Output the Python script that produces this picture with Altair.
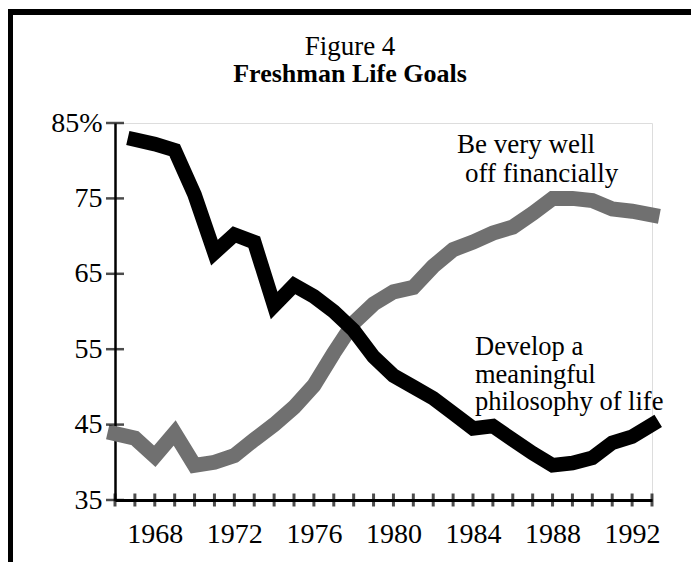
import altair as alt
import pandas as pd

# ---- data ----
years_fin = list(range(1966, 1994))
fin_values = [43.8, 43.2, 40.8, 43.9, 39.6, 40.0, 40.9, 43.0, 45.0, 47.3,
              50.2, 54.5, 58.5, 61.0, 62.6, 63.2, 66.0, 68.2, 69.2, 70.4,
              71.2, 73.0, 75.0, 75.0, 74.7, 73.6, 73.3, 72.8]
years_phil = list(range(1967, 1994))
phil_values = [82.8, 82.2, 81.4, 75.5, 67.8, 70.2, 69.2, 60.8, 63.5, 62.0,
               60.0, 57.5, 54.0, 51.5, 50.0, 48.5, 46.5, 44.5, 44.8, 43.0,
               41.2, 39.6, 39.9, 40.6, 42.6, 43.4, 45.0]
y_tick_values = [35, 45, 55, 65, 75, 85]
x_label_years = [1968, 1972, 1976, 1980, 1984, 1988, 1992]
x_tick_years = list(range(1966, 1994))
title_lines = ["Figure 4", "Freshman Life Goals"]
fin_label = ["Be very well", "off financially"]
phil_label = ["Develop a", "meaningful", "philosophy of life"]

FONT = "Liberation Serif"
W, H = 537, 377

xs = alt.Scale(domain=[1966, 1993], nice=False, zero=False)
ys = alt.Scale(domain=[35, 85], nice=False, zero=False)
xaxis = alt.Axis(values=x_label_years, format="d", title=None, grid=False,
                 ticks=False, tickSize=0, domain=True, domainColor="black",
                 domainWidth=3, labelFont=FONT, labelFontSize=28,
                 labelColor="black", labelPadding=20)
yaxis = alt.Axis(values=y_tick_values, title=None, grid=False, ticks=False,
                 tickSize=0, domain=True, domainColor="black", domainWidth=2.5,
                 labelFont=FONT, labelFontSize=28, labelColor="black",
                 labelPadding=13,
                 labelExpr="datum.value == 85 ? '85%' : datum.label")


def X(field):
    return alt.X(field, type="quantitative", scale=xs, axis=xaxis)


def Y(field):
    return alt.Y(field, type="quantitative", scale=ys, axis=yaxis)


fin_df = pd.DataFrame({"year": years_fin, "value": fin_values})
phil_df = pd.DataFrame({"year": years_phil, "value": phil_values})

fin_line = alt.Chart(fin_df).mark_line(
    color="#707070", strokeWidth=15, strokeJoin="miter", strokeCap="square"
).encode(x=X("year"), y=Y("value"))

phil_line = alt.Chart(phil_df).mark_line(
    color="black", strokeWidth=14.5, strokeJoin="miter", strokeCap="square"
).encode(x=X("year"), y=Y("value"))

ytick_df = pd.DataFrame({"year": [1966] * len(y_tick_values), "value": y_tick_values})
ytick_layer = alt.Chart(ytick_df).mark_tick(
    orient="horizontal", size=18, thickness=2.5, color="black"
).encode(x=X("year"), y=Y("value"))

xtick_df = pd.DataFrame({"year": x_tick_years, "value": [35] * len(x_tick_years)})
xtick_layer = alt.Chart(xtick_df).mark_tick(
    orient="vertical", size=13, thickness=3, color="black"
).encode(x=X("year"), y=Y("value"))


def text_layer(txt, px, py, size, weight="normal", align="left"):
    return alt.Chart(pd.DataFrame({"label": [txt]})).mark_text(
        font=FONT, fontSize=size, fontWeight=weight, align=align,
        baseline="alphabetic", color="black"
    ).encode(text="label:N", x=alt.value(px), y=alt.value(py))


texts = [
    text_layer(title_lines[0], 235, -68, 27, align="center"),
    text_layer(title_lines[1], 235, -41, 26, weight="bold", align="center"),
    text_layer(fin_label[0], 342, 30, 27),
    text_layer(fin_label[1], 350, 59, 27),
    text_layer(phil_label[0], 360, 232, 26.5),
    text_layer(phil_label[1], 360, 260, 26.5),
    text_layer(phil_label[2], 360, 287, 26.5),
]

one = pd.DataFrame({"k": [0]})
top_border = alt.Chart(one).mark_rule(color="black", strokeWidth=6).encode(
    x=alt.value(-107), x2=alt.value(580), y=alt.value(-111))
left_border = alt.Chart(one).mark_rule(color="black", strokeWidth=5).encode(
    x=alt.value(-104.5), y=alt.value(-114), y2=alt.value(445))

chart = alt.layer(
    top_border, left_border, fin_line, phil_line, ytick_layer, xtick_layer, *texts
).properties(
    width=W, height=H,
    autosize=alt.AutoSizeParams(type="none"),
    padding={"left": 107, "top": 115, "right": 39, "bottom": 62},
).configure_view(stroke="transparent").configure(background="white")

chart.save("out.html", embed_options={"renderer": "svg", "actions": False})
